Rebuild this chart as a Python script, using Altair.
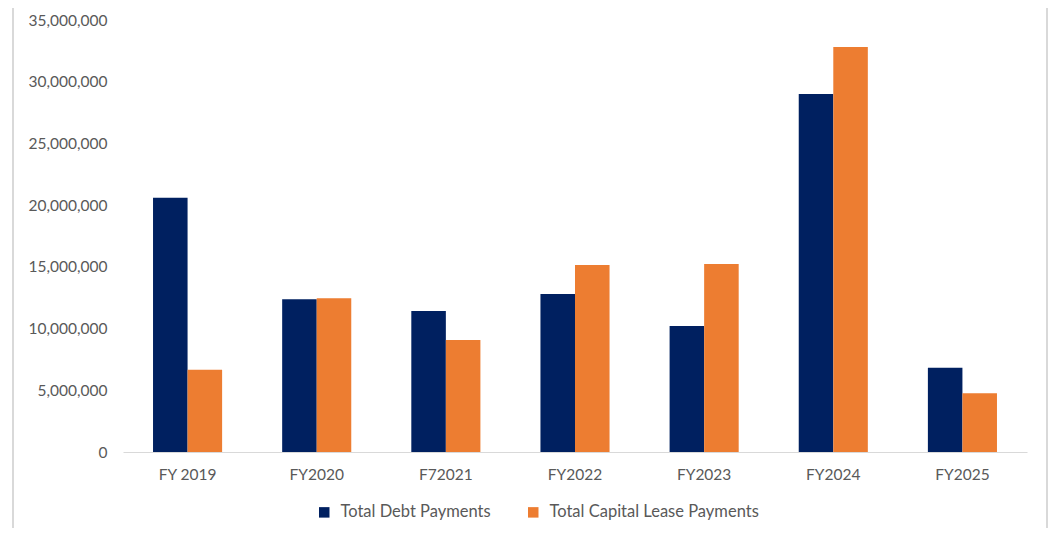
import altair as alt
import pandas as pd

categories = ["FY 2019", "FY2020", "F72021", "FY2022", "FY2023", "FY2024", "FY2025"]
debt = [20600000, 12370000, 11430000, 12800000, 10200000, 29000000, 6830000]
lease = [6670000, 12450000, 9070000, 15150000, 15230000, 32810000, 4750000]
series = ["Total Debt Payments", "Total Capital Lease Payments"]
colors = ["#002060", "#ED7D31"]
y_ticks = [0, 5000000, 10000000, 15000000, 20000000, 25000000, 30000000, 35000000]

rows = []
for i, c in enumerate(categories):
    rows.append({"cat": c, "series": series[0], "value": debt[i]})
    rows.append({"cat": c, "series": series[1], "value": lease[i]})
df = pd.DataFrame(rows)

FONT = "Lato"
W, H = 904, 432

bars = alt.Chart(df).mark_bar().encode(
    x=alt.X("cat:N", sort=categories, title=None,
            scale=alt.Scale(paddingInner=0.465, paddingOuter=0.2325),
            axis=alt.Axis(labelAngle=0, ticks=False, domainColor="#d9d9d9", domainWidth=1,
                          labelPadding=15, labelFont=FONT, labelFontSize=15.5, labelColor="#595959")),
    xOffset=alt.XOffset("series:N", sort=series, scale=alt.Scale(paddingInner=0)),
    y=alt.Y("value:Q", title=None,
            scale=alt.Scale(domain=[0, 35000000], nice=False),
            axis=alt.Axis(values=y_ticks, format=",d", grid=False, domain=False, ticks=False,
                          labelPadding=16, labelFont=FONT, labelFontSize=15.5, labelColor="#595959")),
    color=alt.Color("series:N", sort=series, scale=alt.Scale(domain=series, range=colors),
                    legend=alt.Legend(title=None, orient="none", direction="horizontal",
                                      legendX=193, legendY=484, symbolType="square", symbolSize=110,
                                      symbolStrokeWidth=0, columnPadding=34, labelFont=FONT,
                                      labelFontSize=16.5, labelLimit=0,
                                      labelColor="#595959", labelOffset=8)),
)

frame_left = alt.Chart(pd.DataFrame({"k": [0]})).mark_rule(color="#d9d9d9", strokeWidth=2).encode(
    x=alt.value(-110), y=alt.value(-12), y2=alt.value(H + 95))
frame_right = alt.Chart(pd.DataFrame({"k": [0]})).mark_rule(color="#d9d9d9", strokeWidth=2).encode(
    x=alt.value(924), y=alt.value(-12), y2=alt.value(H + 95))

chart = alt.layer(bars, frame_left, frame_right).properties(
    width=W, height=H,
    autosize=alt.AutoSizeParams(type="none"),
    padding={"left": 115, "top": 12, "right": 21, "bottom": 76},
).configure(background="white").configure_view(stroke=None)

chart.save("out.html", embed_options={"renderer": "svg", "actions": False})
